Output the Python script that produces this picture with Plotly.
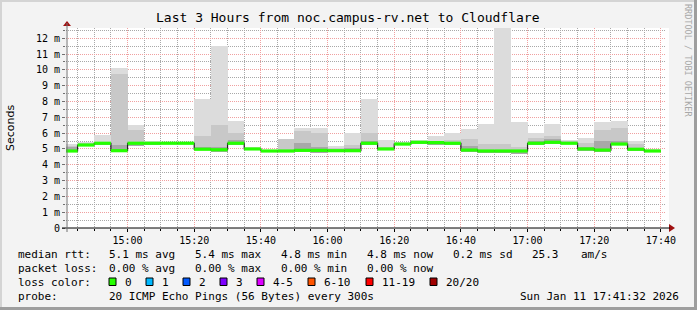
import plotly.graph_objects as go

# ---------------- data ----------------
interval_start = [
    "2026-01-11 14:40", "2026-01-11 14:45", "2026-01-11 14:50", "2026-01-11 14:55",
    "2026-01-11 15:00", "2026-01-11 15:05", "2026-01-11 15:10", "2026-01-11 15:15",
    "2026-01-11 15:20", "2026-01-11 15:25", "2026-01-11 15:30", "2026-01-11 15:35",
    "2026-01-11 15:40", "2026-01-11 15:45", "2026-01-11 15:50", "2026-01-11 15:55",
    "2026-01-11 16:00", "2026-01-11 16:05", "2026-01-11 16:10", "2026-01-11 16:15",
    "2026-01-11 16:20", "2026-01-11 16:25", "2026-01-11 16:30", "2026-01-11 16:35",
    "2026-01-11 16:40", "2026-01-11 16:45", "2026-01-11 16:50", "2026-01-11 16:55",
    "2026-01-11 17:00", "2026-01-11 17:05", "2026-01-11 17:10", "2026-01-11 17:15",
    "2026-01-11 17:20", "2026-01-11 17:25", "2026-01-11 17:30", "2026-01-11 17:35",
]
last_end = "2026-01-11 17:40"

# median rtt (ms)
median_ms = [4.87, 5.25, 5.36, 4.89, 5.36, 5.36, 5.36, 5.36,
             4.98, 4.95, 5.36, 5.00, 4.87, 4.87, 4.91, 4.91,
             4.89, 4.89, 5.36, 5.00, 5.31, 5.42, 5.40, 5.36,
             4.93, 4.87, 4.87, 4.87, 5.36, 5.42, 5.36, 5.00,
             4.93, 5.31, 4.98, 4.87]
# smoke: min, top of darker band, top of medium band, max
smoke_min = [4.80, 5.20, 5.30, 4.85, 5.20, 5.30, 5.32, 5.32,
             4.92, 4.82, 5.28, 4.95, 4.83, 4.83, 4.85, 4.75,
             4.78, 4.83, 5.28, 4.92, 5.25, 5.30, 5.25, 5.28,
             4.80, 4.75, 4.75, 4.70, 5.25, 5.30, 5.33, 4.85,
             4.80, 5.25, 4.85, 4.83]
smoke_dark = [5.10, 5.30, 5.40, 5.25, 5.45, 5.40, 5.38, 5.38,
              5.10, 5.15, 5.55, 5.05, 4.90, 4.95, 5.35, 5.10,
              4.95, 5.05, 5.50, 5.05, 5.35, 5.45, 5.45, 5.40,
              5.20, 4.95, 4.95, 4.95, 5.50, 5.60, 5.42, 5.10,
              5.50, 5.50, 5.05, 4.92]
smoke_mid = [5.20, 5.35, 5.45, 9.74, 6.20, 5.42, 5.38, 5.38,
             5.82, 6.51, 6.00, 5.05, 4.92, 5.60, 6.13, 5.99,
             5.05, 5.25, 5.99, 5.10, 5.35, 5.50, 5.50, 5.55,
             5.60, 5.30, 5.30, 5.10, 5.70, 5.80, 5.50, 5.40,
             6.20, 6.30, 5.30, 4.95]
smoke_max = [5.31, 5.46, 5.88, 10.10, 6.51, 5.50, 5.40, 5.40,
             8.16, 11.51, 6.77, 5.14, 4.95, 5.63, 6.35, 6.35,
             5.21, 5.99, 8.16, 5.55, 5.42, 5.57, 5.84, 5.99,
             6.26, 6.58, 12.65, 6.70, 5.99, 6.58, 5.57, 5.67,
             6.70, 6.77, 5.50, 5.00]

y_tick_vals = [0, 1, 2, 3, 4, 5, 6, 7, 8, 9, 10, 11, 12]
y_tick_text = ["0", "1 m", "2 m", "3 m", "4 m", "5 m", "6 m", "7 m",
               "8 m", "9 m", "10 m", "11 m", "12 m"]

title_text = "Last 3 Hours from noc.campus-rv.net to Cloudflare"
rtt_items = ["median rtt:", "5.1 ms avg", "5.4 ms max", "4.8 ms min",
             "4.8 ms now", "0.2 ms sd", "25.3", "am/s"]
loss_items = ["packet loss:", "0.00 % avg", "0.00 % max", "0.00 % min", "0.00 % now"]
loss_labels = ["0", "1", "2", "3", "4-5", "6-10", "11-19", "20/20"]
loss_colors = ["#26ff00", "#00b8ff", "#0059ff", "#7e00ff",
               "#dd00ff", "#ff5500", "#ff0000", "#a10000"]
probe_text = "20 ICMP Echo Pings (56 Bytes) every 300s"
stamp_text = "Sun Jan 11 17:41:32 2026"

# ---------------- layout geometry (pixels) ----------------
W, H = 697, 310
PL, PR, PT, PB = 66, 666, 28, 228
YMAX = 12.65
MONO = "DejaVu Sans Mono"
RED_GRID = "#f0a0a0"
GRAY_GRID = "#a8a8a8"


def px(x):
    return (x - PL) / (PR - PL)


def py(y):
    return (PB - y) / (PB - PT)


BAR_W = 300000  # 5 min in ms

fig = go.Figure()


def smoke(lo, hi, color):
    fig.add_trace(go.Bar(
        x=interval_start, base=lo, y=[h - l for h, l in zip(hi, lo)],
        width=BAR_W, offset=0, marker=dict(color=color, line=dict(width=0)),
        hoverinfo="skip", showlegend=False))


smoke(smoke_min, smoke_max, "#dcdcdc")
smoke(smoke_min, smoke_mid, "#c8c8c8")
smoke(smoke_min, smoke_dark, "#a8a8a8")

# black median step line (its vertical steps stay visible)
interval_end = interval_start[1:] + [last_end]
fig.add_trace(go.Scatter(
    x=interval_start + [last_end], y=median_ms + [median_ms[-1]],
    mode="lines", line=dict(color="#202020", width=1.2, shape="hv"),
    hoverinfo="skip", showlegend=False))

# green loss-colour band over the horizontal parts of the median
gx, gy = [], []
for s, e, m in zip(interval_start, interval_end, median_ms):
    gx += [s, e, None]
    gy += [m, m, None]
fig.add_trace(go.Scatter(
    x=gx, y=gy, mode="lines", line=dict(color=loss_colors[0], width=3.2),
    connectgaps=False, hoverinfo="skip", showlegend=False))

shapes = []
# white canvas slightly wider than plot
shapes.append(dict(type="rect", xref="paper", yref="paper", layer="below",
                   x0=px(PL), x1=px(669), y0=py(PB), y1=py(PT),
                   fillcolor="white", line=dict(width=0)))
# frame
shapes += [
    dict(type="rect", xref="paper", yref="paper", x0=px(0), x1=px(W), y0=py(0), y1=py(2),
         fillcolor="#d4d4d4", line=dict(width=0)),
    dict(type="rect", xref="paper", yref="paper", x0=px(0), x1=px(2), y0=py(0), y1=py(H),
         fillcolor="#d4d4d4", line=dict(width=0)),
    dict(type="rect", xref="paper", yref="paper", x0=px(0), x1=px(W), y0=py(H - 3), y1=py(H),
         fillcolor="#9e9e9e", line=dict(width=0)),
    dict(type="rect", xref="paper", yref="paper", x0=px(W - 3), x1=px(W), y0=py(0), y1=py(H),
         fillcolor="#9e9e9e", line=dict(width=0)),
]
# axis arrows
shapes.append(dict(type="path", xref="paper", yref="paper",
                   path=f"M {px(63)} {py(26)} L {px(71)} {py(26)} L {px(67)} {py(21)} Z",
                   fillcolor="#a01010", line=dict(width=0)))
shapes.append(dict(type="path", xref="paper", yref="paper",
                   path=f"M {px(669)} {py(224)} L {px(669)} {py(232)} L {px(675)} {py(228)} Z",
                   fillcolor="#a01010", line=dict(width=0)))
# axis lines
shapes.append(dict(type="line", xref="paper", yref="paper",
                   x0=px(62), x1=px(670), y0=py(228), y1=py(228),
                   line=dict(color="black", width=1)))
shapes.append(dict(type="line", xref="paper", yref="paper",
                   x0=px(67), x1=px(67), y0=py(23), y1=py(232),
                   line=dict(color="#707070", width=1)))

annotations = []
annotations.append(dict(text=title_text, x=px(348), y=py(18), xref="paper", yref="paper",
                        showarrow=False, xanchor="center", yanchor="middle",
                        font=dict(family=MONO, size=13, color="black")))
annotations.append(dict(text="Seconds", x=px(10), y=py(128), xref="paper", yref="paper",
                        showarrow=False, textangle=-90, xanchor="center", yanchor="middle",
                        font=dict(family="DejaVu Sans", size=11, color="black")))
annotations.append(dict(text="RRDTOOL / TOBI OETIKER", x=px(688), y=py(60), xref="paper",
                        yref="paper", showarrow=False, textangle=90, xanchor="center",
                        yanchor="middle", font=dict(family=MONO, size=8.5, color="#a8a8a8")))


def legend_text(t, x, y, anchor="left"):
    annotations.append(dict(text=t, x=px(x), y=py(y), xref="paper", yref="paper",
                            showarrow=False, xanchor=anchor, yanchor="middle",
                            font=dict(family=MONO, size=11, color="black")))


rtt_x = [16, 107, 193, 279, 365, 451, 530, 579]
for t, x in zip(rtt_items, rtt_x):
    legend_text(t, x, 254.5)
loss_x = [16, 107, 193, 279, 365]
for t, x in zip(loss_items, loss_x):
    legend_text(t, x, 268)
legend_text("loss color:", 16, 282)
box_x = [109, 146, 183, 220, 257, 308, 366, 430]
for lab, col, bx in zip(loss_labels, loss_colors, box_x):
    shapes.append(dict(type="rect", xref="paper", yref="paper",
                       x0=px(bx), x1=px(bx + 7), y0=py(278), y1=py(285.5),
                       fillcolor=col, line=dict(color="black", width=1)))
    legend_text(lab, bx + 14, 282)
legend_text("probe:", 16, 296)
legend_text(probe_text, 107, 296)
legend_text(stamp_text, 681, 296, anchor="right")

fig.update_layout(
    width=W, height=H,
    margin=dict(l=PL, r=W - PR, t=PT, b=H - PB, pad=0),
    paper_bgcolor="#f3f3f3", plot_bgcolor="rgba(0,0,0,0)",
    barmode="overlay", bargap=0, showlegend=False,
    shapes=shapes, annotations=annotations,
    xaxis=dict(
        type="date", layer="above traces",
        range=["2026-01-11 14:41:32", "2026-01-11 17:41:32"],
        tick0="2026-01-11 15:00", dtick=1200000, tickformat="%H:%M",
        showgrid=True, gridcolor=RED_GRID, griddash="1px,1px", gridwidth=1,
        ticks="outside", ticklen=3, tickcolor="black",
        tickfont=dict(family=MONO, size=10, color="black"),
        minor=dict(dtick=300000, tick0="2026-01-11 15:00", showgrid=True,
                   gridcolor=GRAY_GRID, griddash="1px,1px", gridwidth=1,
                   ticks="outside", ticklen=2, tickcolor="black"),
        showline=False, zeroline=False, fixedrange=True,
    ),
    yaxis=dict(
        layer="above traces",
        range=[0, YMAX], tickvals=y_tick_vals, ticktext=y_tick_text,
        showgrid=True, gridcolor=RED_GRID, griddash="1px,1px", gridwidth=1,
        ticks="outside", ticklen=3, tickcolor="#707070",
        tickfont=dict(family=MONO, size=10, color="black"),
        minor=dict(dtick=0.5, tick0=0, showgrid=True, gridcolor=GRAY_GRID,
                   griddash="1px,1px", gridwidth=1, ticks="outside", ticklen=2,
                   tickcolor="#707070"),
        showline=False, zeroline=False, fixedrange=True,
    ),
)

fig.write_html("out.html", config={"displayModeBar": False})
